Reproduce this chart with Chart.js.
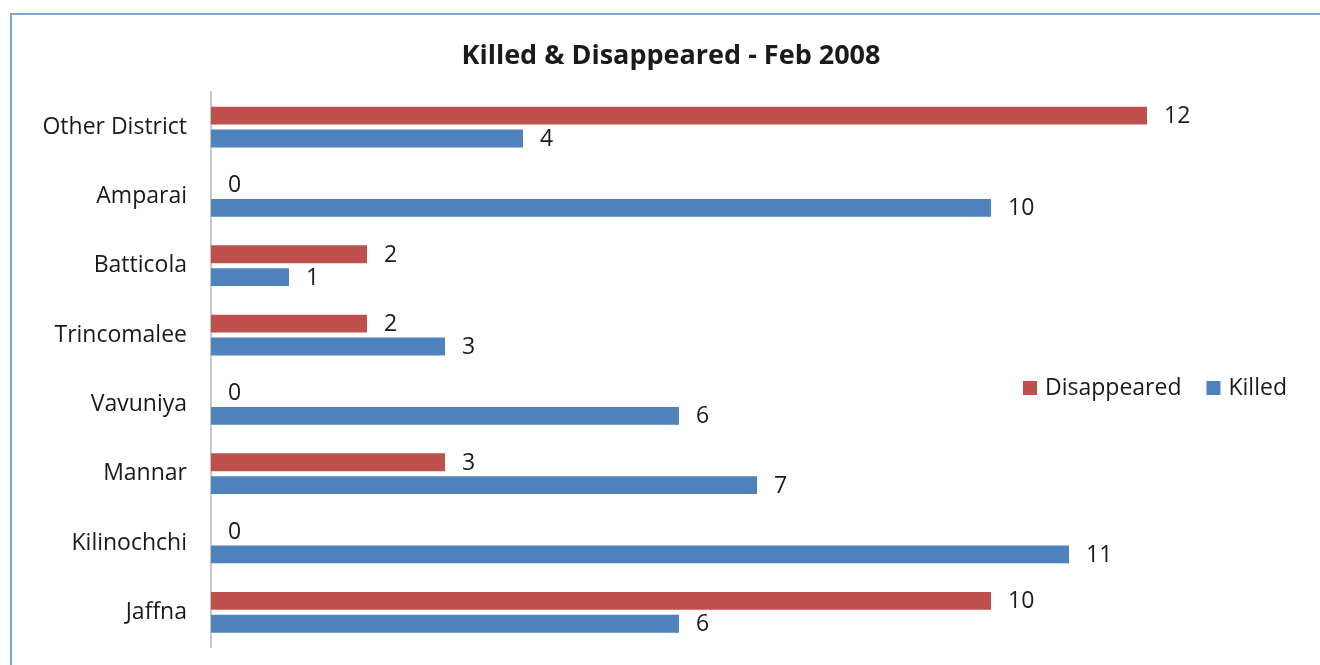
<!DOCTYPE html>
<html>
<head>
<meta charset="utf-8">
<script src="https://cdn.jsdelivr.net/npm/chart.js@4"></script>
<style>
    html, body { margin: 0; padding: 0; background: #fff; }
    #wrap { position: relative; width: 1320px; height: 665px; overflow: hidden; }
    #frame {
        position: absolute; left: 10px; top: 13px; width: 1400px; height: 700px;
        border-top: 2px solid #7fa6d8; border-left: 2px solid #7fa6d8;
    }
    canvas { position: absolute; left: 0; top: 0; }
</style>
</head>
<body>
<div id="wrap">
    <div id="frame"></div>
    <canvas id="chart" width="1320" height="665"></canvas>
</div>
<script>
const districts = ['Other District', 'Amparai', 'Batticola', 'Trincomalee', 'Vavuniya', 'Mannar', 'Kilinochchi', 'Jaffna'];
const disappeared = [12, 0, 2, 2, 0, 3, 0, 10];
const killed = [4, 10, 1, 3, 6, 7, 11, 6];

const FONT = '"Open Sans", Lato, sans-serif';
const TEXT = '#1a1a1a';

// value label at the end of every bar
const valueLabels = {
    id: 'valueLabels',
    afterDatasetsDraw(chart) {
        const ctx = chart.ctx;
        ctx.save();
        ctx.font = '23px ' + FONT;
        ctx.fillStyle = TEXT;
        ctx.textAlign = 'left';
        ctx.textBaseline = 'middle';
        chart.data.datasets.forEach((ds, i) => {
            chart.getDatasetMeta(i).data.forEach((bar, j) => {
                ctx.fillText(String(ds.data[j]), bar.x + 17, bar.y + 1);
            });
        });
        ctx.restore();
    }
};

// legend sits inside the plot, on the right, like the original
const insideLegend = {
    id: 'insideLegend',
    afterDraw(chart) {
        const ctx = chart.ctx;
        ctx.save();
        ctx.font = '23px ' + FONT;
        ctx.textBaseline = 'middle';
        let x = 1023;
        const y = 388;
        chart.data.datasets.forEach(ds => {
            ctx.fillStyle = ds.backgroundColor;
            ctx.fillRect(x, y - 7, 14, 14);
            ctx.fillStyle = TEXT;
            ctx.fillText(ds.label, x + 22, y);
            x += 22 + ctx.measureText(ds.label).width + 25;
        });
        ctx.restore();
    }
};

new Chart(document.getElementById('chart'), {
    type: 'bar',
    data: {
        labels: districts,
        datasets: [
            {
                label: 'Disappeared',
                data: disappeared,
                backgroundColor: '#c0504d'
            },
            {
                label: 'Killed',
                data: killed,
                backgroundColor: '#4f81bd'
            }
        ]
    },
    options: {
        indexAxis: 'y',
        responsive: false,
        animation: false,
        categoryPercentage: 0.66,
        barPercentage: 0.78,
        layout: {
            padding: { left: 39, right: 17, top: 0, bottom: 18 }
        },
        plugins: {
            legend: { display: false },
            tooltip: { enabled: false },
            title: {
                display: true,
                text: 'Killed & Disappeared - Feb 2008',
                color: TEXT,
                font: { family: FONT, size: 27, weight: 'bold' },
                padding: { top: 40, bottom: 20 }
            }
        },
        scales: {
            x: {
                display: false,
                min: 0,
                max: 14
            },
            y: {
                afterFit: scale => {
                    scale.width = 172;
                    scale.paddingTop = 0;
                    scale.paddingBottom = 0;
                },
                grid: { display: false, drawTicks: false },
                border: { display: true, color: '#c8c8c8', width: 2 },
                ticks: {
                    color: TEXT,
                    padding: 24,
                    font: { family: FONT, size: 23 }
                }
            }
        }
    },
    plugins: [valueLabels, insideLegend]
});
</script>
</body>
</html>
